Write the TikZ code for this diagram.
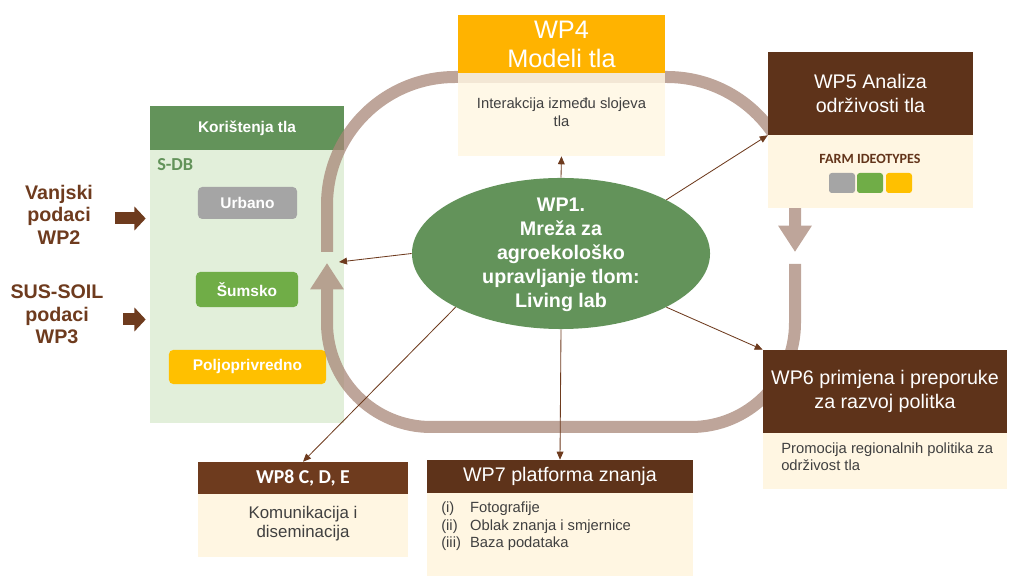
\documentclass[tikz,border=0pt]{standalone}
\usepackage{fontspec}
\setmainfont{Liberation Sans}
\newfontfamily\calfont{Carlito}
\usetikzlibrary{arrows.meta,shapes.geometric,positioning}

\definecolor{wpbrown}{HTML}{5E331A}
\definecolor{arrbrown}{HTML}{6E3B1E}
\definecolor{cream}{HTML}{FFF6E2}
\definecolor{wporange}{HTML}{FFB300}
\definecolor{dbgreen}{HTML}{E2EFDA}
\definecolor{hdgreen}{HTML}{63935A}
\definecolor{loopc}{RGB}{168,135,120}
\definecolor{txtgray}{HTML}{404040}
\definecolor{tgray}{HTML}{A5A5A5}
\definecolor{tgreen}{HTML}{70AD47}
\definecolor{tyellow}{HTML}{FFC000}

\tikzset{
  hdr/.style={fill=wpbrown, text=white, inner sep=0pt, align=center},
  body/.style={fill=cream, inner sep=0pt},
  tag/.style={rounded corners=3pt, text=white, inner sep=0pt,
    font=\bfseries\fontsize{11}{13}\selectfont},
  txt/.style={text=txtgray, inner sep=0pt},
  link/.style={draw=arrbrown, line width=0.6pt, -{Triangle[length=2mm,width=1.7mm]}},
  loopline/.style={draw=loopc, line width=0.3cm,
    -{Triangle[length=0.66cm,width=0.8cm]}},
  fat/.style={draw=arrbrown, line width=0.3cm, -{Triangle[length=0.28cm,width=0.58cm]}}
}

\begin{document}
\begin{tikzpicture}[x=0.025cm,y=-0.025cm]
  \useasboundingbox (0,0) rectangle (1009,576);

  % S-DB panel
  \node[fill=dbgreen, minimum width=4.85cm, minimum height=7.925cm, inner sep=0pt] (sdb) at (247,264.5) {};
  \node[fill=hdgreen, text=white, minimum width=4.85cm, minimum height=1.1cm, inner sep=0pt,
    font=\bfseries\fontsize{11}{13}\selectfont] (sdbh) at (247,128) {Korištenja tla};
  \node[anchor=west, text=hdgreen, inner sep=0pt, font=\calfont\bfseries\fontsize{13}{15}\selectfont] (sdbl) at (157,165) {S-DB};
  \node[tag, fill=tgray, minimum width=2.475cm, minimum height=0.8cm] (urb) at (247.5,203) {Urbano};
  \node[tag, fill=tgreen, minimum width=2.55cm, minimum height=0.875cm] (sum) at (247,289.5) {Šumsko};
  \node[tag, fill=tyellow, minimum width=3.925cm, minimum height=0.85cm] (polj) at (247.5,367) {Poljoprivredno};

  % inputs
  \node[text=arrbrown, align=center, inner sep=0pt, font=\bfseries\fontsize{14}{16}\selectfont] (wp2t) at (59,214.5) {Vanjski\\podaci\\WP2};
  \node[text=arrbrown, align=center, inner sep=0pt, font=\bfseries\fontsize{14}{16}\selectfont] (wp3t) at (57,314.5) {SUS-SOIL\\podaci\\WP3};
  \coordinate (in2) at (115,218.5);
  \coordinate (in3) at (123,319.5);
  \draw[fat] (in2) -- ([xshift=-0.1cm]in2 -| sdb.west);
  \draw[fat] (in3) -- ([xshift=-0.1cm]in3 -| sdb.west);

  % cycle
  \begin{scope}[transparency group, opacity=0.75]
    \draw[loopline, rounded corners=3.2cm] (327,252) -- (327,77) -- (795,77) -- (795,252);
    \draw[loopline, rounded corners=2.6cm] (795,264) -- (795,427) -- (327,427) -- (327,263);
  \end{scope}

  % WP4
  \node[fill=wporange, text=white, inner sep=0pt, align=center, minimum width=5.175cm, minimum height=1.45cm,
    font=\fontsize{18}{20.6}\selectfont] (wp4h) at (561.5,44) {WP4\\Modeli tla};
  \node[body, fill opacity=0.82, minimum width=5.175cm, minimum height=2.075cm] (wp4b) at (561.5,114.5) {};
  \node[txt, align=center, font=\fontsize{10.5}{12.8}\selectfont] (wp4t) at (561.5,112) {Interakcija između slojeva\\tla};

  % WP5
  \node[hdr, minimum width=5.125cm, minimum height=2.075cm, font=\fontsize{14}{16.4}\selectfont] (wp5h) at (870.5,93.5) {WP5 Analiza\\održivosti tla};
  \node[body, minimum width=5.125cm, minimum height=1.825cm] (wp5b) at (870.5,171.5) {};
  \node[text=arrbrown!90!black, inner sep=0pt, font=\calfont\bfseries\fontsize{10}{12}\selectfont] (farm) at (870,159) {FARM IDEOTYPES};
  \node[fill=tgray, rounded corners=2pt, minimum width=0.65cm, minimum height=0.5cm, inner sep=0pt] (ft1) at (842,183) {};
  \node[fill=tgreen, rounded corners=2pt, minimum width=0.65cm, minimum height=0.5cm, inner sep=0pt] (ft2) at (870,183) {};
  \node[fill=tyellow, rounded corners=2pt, minimum width=0.65cm, minimum height=0.5cm, inner sep=0pt] (ft3) at (899,183) {};

  % WP6
  \node[hdr, minimum width=6.1cm, minimum height=2.075cm, font=\fontsize{14}{17}\selectfont] (wp6h) at (885,391.5) {WP6 primjena i preporuke\\za razvoj politka};
  \node[body, minimum width=6.1cm, minimum height=1.4cm] (wp6b) at (885,461) {};
  \node[txt, anchor=west, align=left, font=\fontsize{10.5}{12}\selectfont] (wp6t) at (781,456.5) {Promocija regionalnih politika za\\održivost tla};

  % WP7
  \node[hdr, minimum width=6.65cm, minimum height=0.825cm, font=\fontsize{14}{16}\selectfont] (wp7h) at (560,476.5) {WP7 platforma znanja};
  \node[body, minimum width=6.65cm, minimum height=2.075cm] (wp7b) at (560,534.5) {};
  \node[txt, anchor=north west, font=\fontsize{10.5}{12.5}\selectfont] (wp7t) at (441,500)
    {\begin{tabular}{@{}p{0.72cm}@{}l@{}}(i)&Fotografije\\(ii)&Oblak znanja i smjernice\\(iii)&Baza podataka\end{tabular}};

  % WP8
  \node[hdr, fill=arrbrown, minimum width=5.25cm, minimum height=0.8cm, font=\calfont\bfseries\fontsize{14}{16}\selectfont] (wp8h) at (303,478) {WP8 C, D, E};
  \node[body, minimum width=5.25cm, minimum height=1.575cm] (wp8b) at (303,525.5) {};
  \node[txt, align=center, font=\fontsize{12}{13}\selectfont] (wp8t) at (303,523.5) {Komunikacija i\\diseminacija};

  % WP1
  \node[ellipse, fill=hdgreen, minimum width=7.45cm, minimum height=3.775cm, inner sep=0pt] (wp1) at (561,253.5) {};
  \node[text=white, align=center, inner sep=0pt, font=\bfseries\fontsize{14}{17}\selectfont] (wp1t) at (561,255)
    {WP1.\\Mreža za\\agroekološko\\upravljanje tlom:\\Living lab};

  % links
  \coordinate (sdbin) at (339,262);
  \draw[link] (wp1.north) -- (wp4b.south);
  \draw[link] (wp1.27) -- (wp5h.south west);
  \draw[link] (wp1.west) -- (sdbin);
  \draw[link] (wp1.207) -- (wp8h.north);
  \draw[link] (wp1.south) -- (wp7h.north);
  \draw[link] (wp1.333) -- (wp6h.north west);
\end{tikzpicture}
\end{document}
